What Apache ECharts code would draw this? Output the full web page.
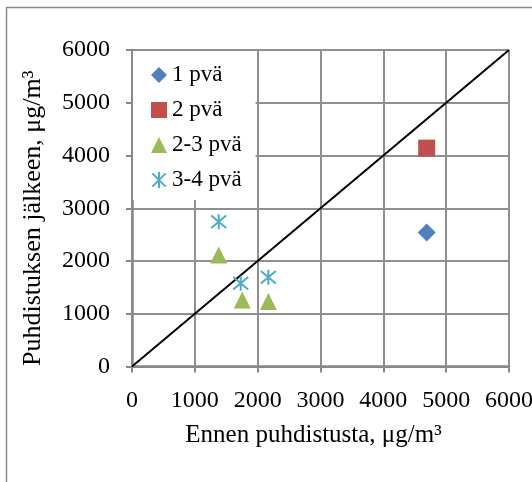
<!DOCTYPE html>
<html>
<head>
<meta charset="utf-8">
<script src="https://cdn.jsdelivr.net/npm/echarts@6/dist/echarts.min.js"></script>
<style>
  html, body { margin: 0; padding: 0; background: #fff; }
  #chart { width: 532px; height: 482px; }
</style>
</head>
<body>
<div id="chart"></div>
<script>
// Pitoisuudet ennen ja jälkeen puhdistuksen (µg/m³)
const seriesNames = ['1 pvä', '2 pvä', '2-3 pvä', '3-4 pvä'];
const before1 = [4690];
const after1 = [2540];
const before2 = [4690];
const after2 = [4140];
const before23 = [1380, 1755, 2170];
const after23 = [2115, 1260, 1230];
const before34 = [1380, 1730, 2170];
const after34 = [2745, 1580, 1690];
// 1:1 reference line
const lineX = [0, 6000];
const lineY = [0, 6000];

const axisTicks = [0, 1000, 2000, 3000, 4000, 5000, 6000];

const pairs = (xs, ys) => xs.map((x, i) => [x, ys[i]]);

const FONT = '"Liberation Serif", "Times New Roman", serif';
const GRID_COLOR = '#8f8f8f';
const AXIS_COLOR = '#888888';
const asterisk = 'path://M0,0L10,10M10,0L0,10M5,-1L5,11';

const chart = echarts.init(document.getElementById('chart'), null, { renderer: 'canvas' });

const axisCommon = {
  type: 'value',
  min: axisTicks[0],
  max: axisTicks[axisTicks.length - 1],
  interval: 1000,
  nameLocation: 'middle',
  nameTextStyle: { fontFamily: FONT, fontSize: 25, color: '#000' },
  axisLine: { show: true, onZero: false, lineStyle: { color: AXIS_COLOR, width: 2.5 } },
  axisTick: { show: true, length: 6, lineStyle: { color: AXIS_COLOR, width: 2 } },
  splitLine: { show: true, lineStyle: { color: GRID_COLOR, width: 2 } },
  axisLabel: {
    fontFamily: FONT, fontSize: 24, color: '#000', margin: 22,
    formatter: (v) => String(v)
  }
};

chart.setOption({
  animation: false,
  backgroundColor: '#fff',
  grid: {
    left: 132, right: 23, top: 50, bottom: 115.5,
    containLabel: false,
    outerBoundsMode: 'none'
  },
  xAxis: Object.assign({}, axisCommon, {
    name: 'Ennen puhdistusta, μg/m³',
    nameGap: 56,
    nameTextStyle: Object.assign({}, axisCommon.nameTextStyle, { padding: [0, 14, 0, 0] })
  }),
  yAxis: Object.assign({}, axisCommon, {
    name: 'Puhdistuksen jälkeen, μg/m³',
    nameGap: 86,
    nameTextStyle: Object.assign({}, axisCommon.nameTextStyle, { fontSize: 26, padding: [0, 20, 0, 0] })
  }),
  legend: {
    data: seriesNames,
    orient: 'vertical',
    left: 133,
    top: 51,
    backgroundColor: '#fff',
    padding: [12, 14, 8, 18],
    itemGap: 11,
    itemWidth: 16,
    itemHeight: 16,
    textStyle: { fontFamily: FONT, fontSize: 23, color: '#000', lineHeight: 24 }
  },
  graphic: [
    { type: 'line', shape: { x1: 6, y1: 7.5, x2: 532, y2: 7.5 }, style: { stroke: '#8c8c8c', lineWidth: 1.5 } },
    { type: 'line', shape: { x1: 6.5, y1: 7, x2: 6.5, y2: 482 }, style: { stroke: '#8c8c8c', lineWidth: 1.5 } }
  ],
  series: [
    {
      name: 'line',
      type: 'line',
      data: pairs(lineX, lineY),
      symbol: 'none',
      lineStyle: { color: '#000', width: 2 },
      z: 1
    },
    {
      name: seriesNames[0],
      type: 'scatter',
      data: pairs(before1, after1),
      symbol: 'diamond',
      symbolSize: 18,
      itemStyle: { color: '#4F81BD', opacity: 1 }
    },
    {
      name: seriesNames[1],
      type: 'scatter',
      data: pairs(before2, after2),
      symbol: 'rect',
      symbolSize: 17,
      itemStyle: { color: '#C0504D', opacity: 1 }
    },
    {
      name: seriesNames[2],
      type: 'scatter',
      data: pairs(before23, after23),
      symbol: 'triangle',
      symbolSize: 17,
      itemStyle: { color: '#9BBB59', opacity: 1 }
    },
    {
      name: seriesNames[3],
      type: 'scatter',
      data: pairs(before34, after34),
      symbol: asterisk,
      symbolSize: 15,
      itemStyle: { color: 'rgba(0,0,0,0)', borderColor: '#4BACC6', borderWidth: 2, opacity: 1 }
    }
  ]
});
</script>
</body>
</html>
